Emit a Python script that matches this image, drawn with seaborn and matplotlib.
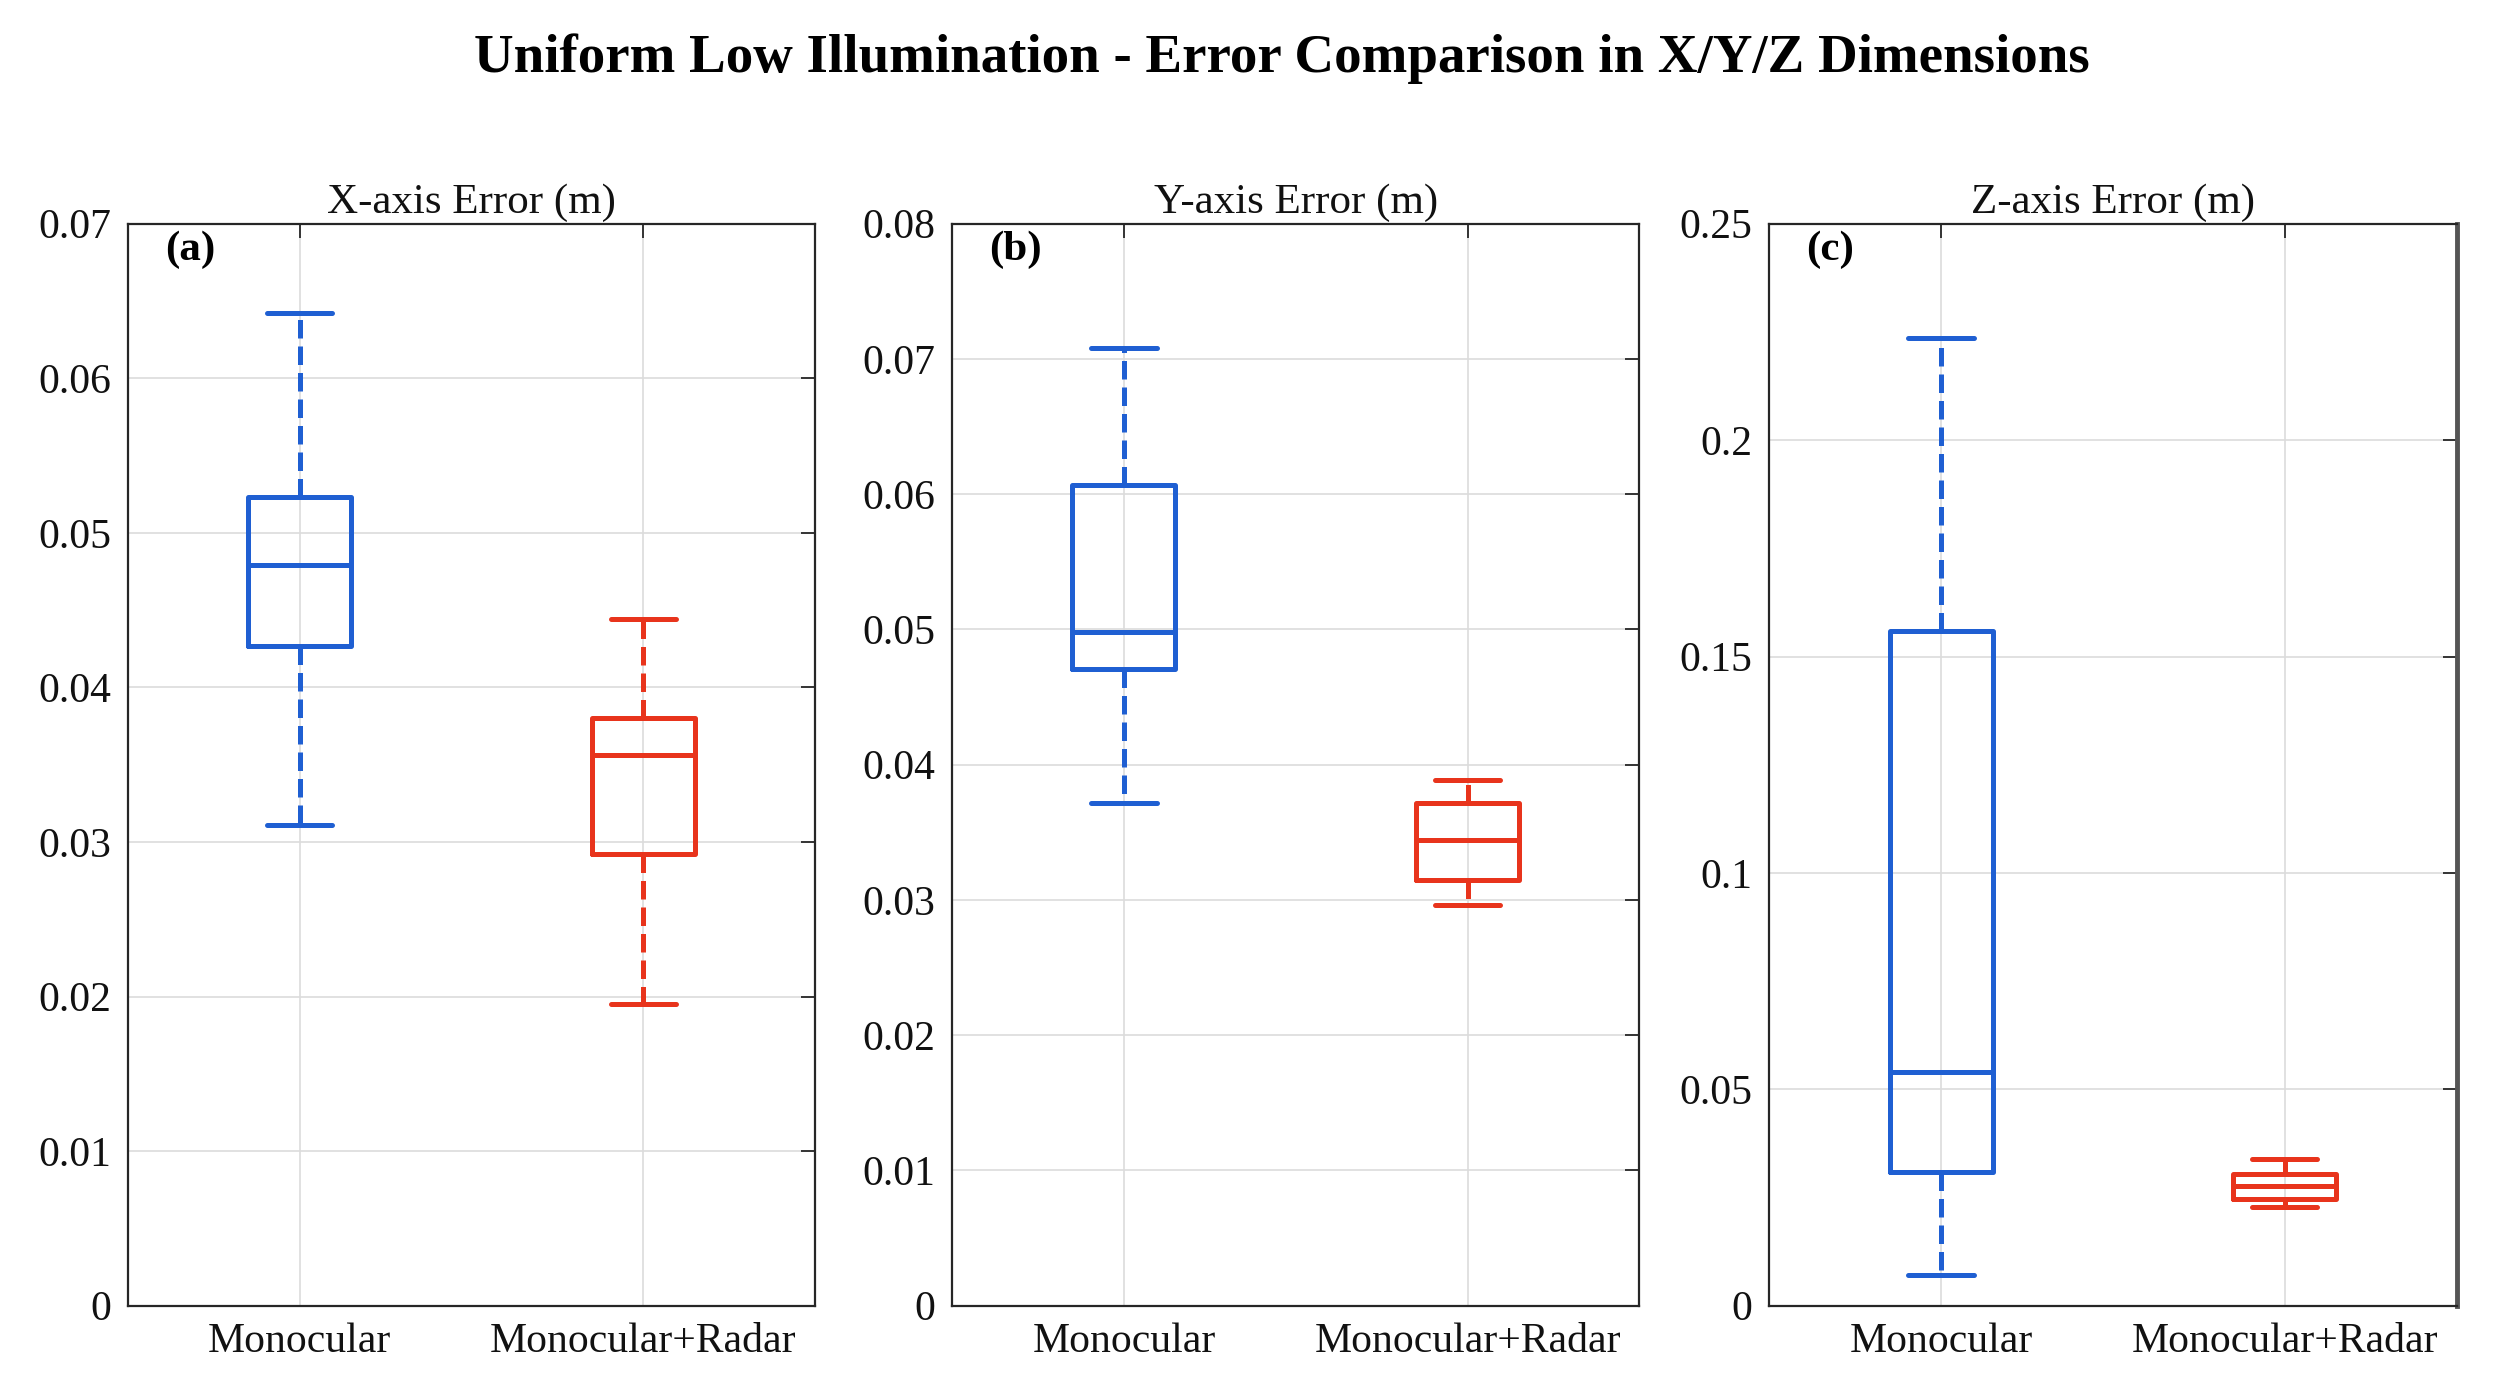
import numpy as np
import pandas as pd
import matplotlib
matplotlib.use("Agg")
import matplotlib.pyplot as plt
import seaborn as sns

# five-number summaries: [min, Q1, median, Q3, max]
methods = ['Monocular', 'Monocular+Radar']
x_mono = [0.0311, 0.0427, 0.0479, 0.0523, 0.0642]
x_radar = [0.0195, 0.0292, 0.0356, 0.0380, 0.0444]
y_mono = [0.0372, 0.0471, 0.0498, 0.0607, 0.0708]
y_radar = [0.0296, 0.0315, 0.0344, 0.0372, 0.0389]
z_mono = [0.0070, 0.0309, 0.0540, 0.1559, 0.2235]
z_radar = [0.0228, 0.0246, 0.0276, 0.0305, 0.0338]

panel_titles = ['X-axis Error (m)', 'Y-axis Error (m)', 'Z-axis Error (m)']
panel_tags = ['(a)', '(b)', '(c)']
y_max = [0.07, 0.08, 0.25]
y_step = [0.01, 0.01, 0.05]

sns.set_style("white")
plt.rcParams['font.family'] = ['Liberation Serif', 'DejaVu Serif']
plt.rcParams['text.color'] = 'black'
plt.rcParams['xtick.labelcolor'] = '#111111'
plt.rcParams['ytick.labelcolor'] = '#111111'

colors = {'Monocular': '#1f5fd2', 'Monocular+Radar': '#e8341c'}

rows = []
for panel, (mono, radar) in enumerate([(x_mono, x_radar), (y_mono, y_radar), (z_mono, z_radar)]):
    for v in mono:
        rows.append((panel, 'Monocular', v))
    for v in radar:
        rows.append((panel, 'Monocular+Radar', v))
df = pd.DataFrame(rows, columns=['panel', 'method', 'value'])

fig = plt.figure(figsize=(24.99, 13.98), dpi=100)
lefts = [0.0512, 0.381, 0.708]
for i in range(3):
    ax = fig.add_axes([lefts[i], 0.066, 0.275, 0.774])
    sub = df[df['panel'] == i]
    sns.boxplot(data=sub, x='method', y='value', hue='method', order=methods,
                palette=colors, fill=False, whis=np.inf, width=0.3,
                linewidth=3.6, legend=False, ax=ax,
                whiskerprops=dict(linestyle='--'), capwidths=0.19)
    ax.set_xlim(-0.5, 1.5)
    ax.set_ylim(0, y_max[i])
    ticks = np.round(np.arange(0, y_max[i] + 1e-9, y_step[i]), 3)
    ax.set_yticks(ticks)
    ax.set_yticklabels(['0' if t == 0 else ('%g' % t) for t in ticks])
    ax.set_xlabel('')
    ax.set_ylabel('')
    ax.grid(True, color='#dcdcdc', linewidth=1.2)
    ax.set_axisbelow(True)
    ax.tick_params(direction='in', length=10, width=1.3, color='#262626',
                   top=True, right=True, labelsize=30, pad=12)
    for s in ax.spines.values():
        s.set_color('#262626')
        s.set_linewidth(1.6)
    if i == 2:
        ax.spines['right'].set_color('#555555')
        ax.spines['right'].set_linewidth(3.5)
    ax.set_title(panel_titles[i], fontsize=31, pad=8, color='#111111')
    ax.text(0.054, 0.976, panel_tags[i], transform=ax.transAxes,
            ha='left', va='center', fontsize=31, fontweight='bold')

fig.suptitle('Uniform Low Illumination - Error Comparison in X/Y/Z Dimensions',
             fontsize=39.5, fontweight='bold', x=0.513, y=0.958, va='center', color='black')

fig.savefig('out.png', dpi=100)
